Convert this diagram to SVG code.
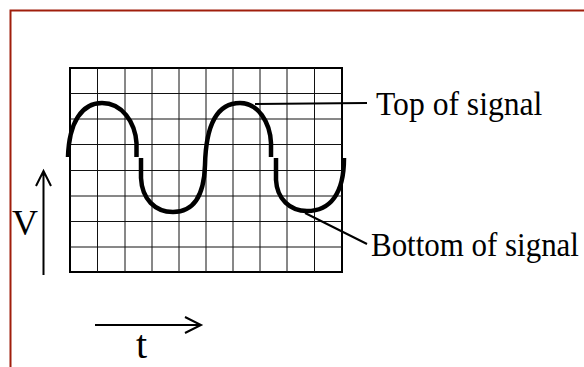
<svg xmlns="http://www.w3.org/2000/svg" width="584" height="367" viewBox="0 0 584 367">
<style>
.grid{stroke:#111;stroke-width:1;fill:none}
.wave{stroke:#000;stroke-width:4.5;fill:none;stroke-linejoin:round}
.ln{stroke:#000;stroke-width:2;fill:none}
.lbl{font-family:"Liberation Serif","Times New Roman",serif;fill:#000}
</style>
<rect width="584" height="367" fill="#fff"/>
<rect x="10.5" y="10.5" width="600" height="400" fill="none" stroke="#a01e0c" stroke-width="2"/>
<g id="screen">
<rect x="70" y="68" width="272" height="204" fill="none" stroke="#000" stroke-width="2"/>
<path class="grid" d="M97.5,68V272M125,68V272M152,68V272M179,68V272M206,68V272M233,68V272M260,68V272M287,68V272M314.5,68V272M70,93.5H342M70,119H342M70,144.5H342M70,170.5H342M70,196H342M70,221.5H342M70,247H342"/>
</g>
<g id="signal">
<path class="wave" d="M68,157 C69,122 82,103 102,103 C122,103 135,122 136.5,143 L136.5,157"/>
<path class="wave" d="M141,158 L141,178 C142,199 155,212 173,212 C194,212 204,196 205,165 C206,122 219,103 240,103 C258,103 270,122 271,143 L271,157"/>
<path class="wave" d="M276,158 L276,180 C277,199 290,211 307,211 C330,211 344,194 344,158"/>
</g>
<g id="connectors">
<line class="ln" x1="255" y1="104" x2="367" y2="103"/>
<line class="ln" x1="305" y1="213" x2="367" y2="244"/>
<path class="ln" d="M43.5,275V171M36,186L43.5,171L51,186"/>
<path class="ln" d="M95,325H201M185,317L201,325L185,333"/>
</g>
<g id="label-top"><text class="lbl" transform="translate(376,115) scale(0.93,1)" font-size="34">Top of signal</text></g>
<g id="label-bottom"><text class="lbl" transform="translate(371,256) scale(0.91,1)" font-size="34">Bottom of signal</text></g>
<g id="label-v"><text class="lbl" x="12" y="235" font-size="36">V</text></g>
<g id="label-t"><text class="lbl" x="136" y="358" font-size="40">t</text></g>
</svg>
